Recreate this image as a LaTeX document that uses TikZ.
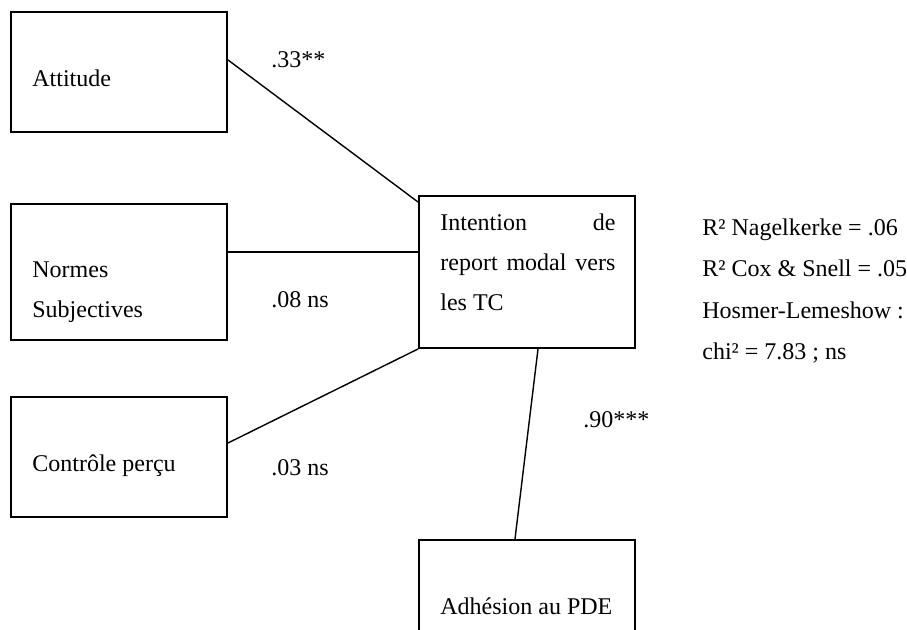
\documentclass[tikz,border=0pt]{standalone}
\usepackage{fontspec}
\setmainfont{Liberation Serif}
\usetikzlibrary{calc}
\begin{document}
\begin{tikzpicture}[x=0.5pt,y=-0.5pt,
  box/.style={draw, line width=1pt, rectangle, minimum width=108pt, inner sep=0pt},
  txt/.style={anchor=base west, inner sep=0pt, font=\fontsize{12pt}{14pt}\selectfont},
  link/.style={draw, line width=0.7pt}]
\useasboundingbox (0,0) rectangle (907,630);
\clip (0,0) rectangle (907,630);

% predictor boxes
\node[box, minimum height=60pt] (att) at (119,72) {};
\node[box, minimum height=68pt] (norm) at (119,272) {};
\node[box, minimum height=60pt] (ctrl) at (119,457) {};
% intention and behaviour boxes
\node[box, minimum height=76pt] (int) at (527,272) {};
\node[box, minimum height=60pt] (adh) at (527,600) {};

% box texts
\node[txt] (attT) at (32,87) {Attitude};
\node[txt] (normT1) at (32,278) {Normes};
\node[txt] (normT2) at (32,318) {Subjectives};
\node[txt] (ctrlT) at (32,472) {Contrôle perçu};
\node[txt] (intT1) at (440,231) {\makebox[87.5pt][s]{Intention de}};
\node[txt] (intT2) at (440,271) {\makebox[87.5pt][s]{report modal vers}};
\node[txt] (intT3) at (440,311) {les TC};
\node[txt] (adhT) at (440,615) {Adhésion au PDE};

% paths
\draw[link] ([yshift=6pt]att.east) -- ([yshift=-3.5pt]int.north west);
\draw[link] ([yshift=10pt]norm.east) -- ([yshift=10pt]int.west);
\draw[link] ([yshift=7pt]ctrl.east) -- (int.south west);
\draw[link] ([xshift=5.5pt]int.south) -- ([xshift=-6pt]adh.north);

% coefficients
\node[txt] (cAtt) at (271,68) {.33**};
\node[txt] (cNorm) at (271,308) {.08 ns};
\node[txt] (cCtrl) at (271,476) {.03 ns};
\node[txt] (cInt) at (583,428) {.90***};

% fit statistics
\node[txt] (fit1) at (702,236) {R² Nagelkerke = .06};
\node[txt] (fit2) at (702,277) {R² Cox \& Snell = .05};
\node[txt] (fit3) at (702,319) {Hosmer-Lemeshow :};
\node[txt] (fit4) at (702,360) {chi² = 7.83 ; ns};
\end{tikzpicture}
\end{document}
